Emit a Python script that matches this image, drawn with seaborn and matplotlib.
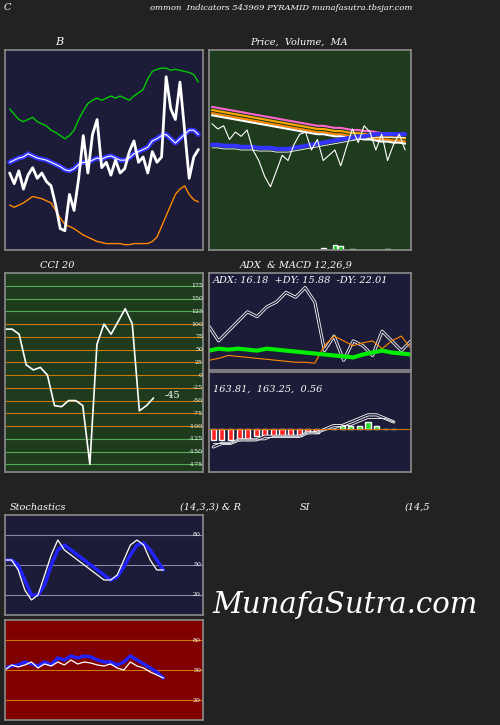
import matplotlib
matplotlib.use("Agg")
import matplotlib.pyplot as plt
import seaborn as sns
import numpy as np
import pandas as pd

sns.set_theme(style="dark")
plt.rcParams['font.family'] = ['DejaVu Serif']

# Bollinger panel
bb_price = [60,50,62,45,58,65,55,60,52,48,30,8,6,40,25,55,95,60,96,110,65,70,58,72,60,64,80,90,70,75,60,80,70,75,150,120,110,145,100,55,75,82]
bb_upper = [120,115,110,108,110,112,108,106,104,100,98,95,92,95,100,110,118,125,128,130,128,130,132,130,132,130,128,132,135,138,148,155,157,158,158,156,157,156,155,154,152,145]
bb_mid = [70,72,74,75,78,76,74,73,72,70,68,66,63,62,64,68,70,70,72,74,73,75,76,74,72,72,74,78,80,82,84,90,92,95,96,92,88,92,96,100,100,96]
bb_lower = [30,28,30,32,35,38,37,36,34,32,25,18,12,10,8,5,2,0,-2,-4,-5,-6,-6,-6,-6,-7,-7,-6,-6,-6,-6,-4,0,10,20,30,40,45,48,40,35,33]

# Price/MA panel
pr = [120,115,118,105,112,108,114,95,85,70,60,75,90,85,100,110,112,95,105,85,90,95,80,98,115,102,118,112,95,110,85,100,110,95]
ma_a = [130,129,128,127,126,125,124,123,122,121,120,119,118,117,116,115,114,113,112,112,111,110,110,109,108,108,107,107,106,105,105,104,104,103]
ma_b = [100,100,99,99,99,98,98,98,97,97,97,96,96,96,97,98,99,100,101,102,103,104,105,106,107,108,108,109,110,110,110,110,110,110]
vol = [0,0,0,0,0,0,0,0,0,0,0,0,0,0,0,0,0,0,0,2,0,5,4,0,1,0,0,0,0,0,1,0,0,0]

# CCI
cci = [90,90,80,20,10,15,0,-60,-62,-50,-50,-60,-175,60,100,80,105,130,100,-70,-60,-45]
cci_ticks = [175,150,125,100,75,50,25,0,-25,-50,-75,-100,-125,-150,-175]

# ADX / MACD
adx = [20,22,21,22,21,20,22,21,20,19,18,17,16,15,14,13,16,18,20,18,17,16]
pdi = [45,30,40,50,60,55,65,70,80,75,85,70,20,35,10,30,25,15,40,30,20,30]
ndi = [10,12,15,14,13,12,11,10,9,8,8,7,25,35,30,25,28,30,22,30,35,22]
macd = [-5,-4,-4,-3,-3,-3,-2,-2,-2,-2,-2,-1,-1,0,1,1,2,3,4,4,3,2]
macd_sig = [-4,-4,-4,-3,-3,-3,-3,-2,-2,-2,-2,-1,-1,0,0,1,1,2,3,3,3,2]
macd_hist = [-3,-3,-3,-3,-3,-2,-2,-2,-2,-2,-2,-1,-1,0,0,1,1,1,2,1,0,0]

# Stochastics / RSI
st_k = [55,55,45,25,15,20,40,60,75,65,60,55,50,45,40,35,35,40,55,70,75,70,55,45,45]
st_d = [55,55,50,35,20,20,30,50,65,70,65,60,55,50,45,40,35,38,48,60,70,72,65,55,45]
rsi = [50,55,53,55,58,52,56,54,58,55,60,56,58,57,55,54,56,52,50,58,54,52,48,45,42]
rsi_s = [52,54,55,58,56,54,58,55,62,60,64,62,64,63,60,58,58,55,58,64,60,56,52,48,42]

fig = plt.figure(figsize=(5, 7.25), dpi=100)
fig.patch.set_facecolor('#222222')
W, H = 500, 725
def ax_at(x0, y0, x1, y1, bg):
    a = fig.add_axes([x0/W, 1-y1/H, (x1-x0)/W, (y1-y0)/H])
    a.set_facecolor(bg)
    for s in a.spines.values():
        s.set_color('#888888')
    a.set_xticks([]); a.set_yticks([])
    a.grid(False)
    return a
def txt(x, y, s, size=7, **kw):
    fig.text(x/W, 1-y/H, s, color='white', fontsize=size, style='italic', **kw)

txt(4, 10, "C", 7)
txt(150, 10, "ommon  Indicators 543969 PYRAMID munafasutra.tbsjar.com", 6)
txt(55, 45, "B", 8)
txt(250, 45, "Price,  Volume,  MA", 7)

a = ax_at(5, 50, 203, 250, '#1c1c38')
x = np.arange(len(bb_price))
for d, c, lw in [(bb_upper, '#00cc00', 1), (bb_lower, '#ff8800', 1)]:
    sns.lineplot(x=x, y=d, ax=a, color=c, lw=lw)
sns.lineplot(x=x, y=bb_mid, ax=a, color='#3333ff', lw=3.5)
sns.lineplot(x=x, y=bb_mid, ax=a, color='white', lw=0.8)
sns.lineplot(x=x, y=bb_price, ax=a, color='white', lw=2)
a.set_xlim(-1, len(x)); a.set_ylim(-12, 175); a.set_xticks([]); a.set_yticks([])

a = ax_at(209, 50, 411, 250, '#1e3b1e')
x = np.arange(len(pr))
for off, c in [(6, '#ff66cc'), (3, '#ffaa00'), (0, '#ff8800'), (-2, 'white')]:
    sns.lineplot(x=x, y=np.array(ma_a)+off, ax=a, color=c, lw=1.5)
sns.lineplot(x=x, y=ma_b, ax=a, color='#3333ff', lw=3)
sns.lineplot(x=x, y=np.array(ma_b)-3, ax=a, color='white', lw=0.6)
sns.lineplot(x=x, y=pr, ax=a, color='white', lw=0.8)
a.bar(x, vol, bottom=0, color='#00cc00', width=0.8)
a.set_xlim(-0.5, len(x)); a.set_ylim(0, 190); a.set_xticks([]); a.set_yticks([])

txt(40, 268, "CCI 20", 7)
a = ax_at(5, 273, 203, 472, '#1e3b1e')
for t in cci_ticks:
    a.axhline(t, color='#cc7700' if abs(t) <= 100 else '#55aa55', lw=0.8)
    a.text(1.0, t, str(t), transform=a.get_yaxis_transform(), color='white', fontsize=4.5, va='center', ha='right')
x = np.arange(len(cci))
sns.lineplot(x=x, y=cci, ax=a, color='white', lw=1.2)
a.text(len(cci)+0.5, cci[-1], "-45", color='white', fontsize=7)
a.set_xlim(0, 28); a.set_ylim(-190, 200); a.set_xticks([]); a.set_yticks([])

txt(240, 268, "ADX  & MACD 12,26,9", 7)
a = ax_at(209, 273, 411, 370, '#1c1c38')
x = np.arange(len(adx))
sns.lineplot(x=x, y=pdi, ax=a, color='white', lw=2.2)
sns.lineplot(x=x, y=pdi, ax=a, color='#1c1c38', lw=1)
sns.lineplot(x=x, y=ndi, ax=a, color='#ff8800', lw=0.8)
sns.lineplot(x=x, y=adx, ax=a, color='#00ee00', lw=3)
a.text(0.02, 0.9, "ADX: 16.18  +DY: 15.88  -DY: 22.01", transform=a.transAxes, color='white', fontsize=7, style='italic')
a.set_xlim(0, len(x)-1); a.set_ylim(0, 100); a.set_xticks([]); a.set_yticks([])

a = ax_at(209, 372, 411, 472, '#1c1c38')
a.bar(x, macd_hist, color=['#ff2222' if v < 0 else '#22dd22' for v in macd_hist], width=0.6)
sns.lineplot(x=x, y=macd, ax=a, color='white', lw=2.2)
sns.lineplot(x=x, y=macd, ax=a, color='#1c1c38', lw=1)
sns.lineplot(x=x, y=macd_sig, ax=a, color='white', lw=0.6)
a.axhline(0, color='#cc7700', lw=0.8)
a.text(0.02, 0.8, "163.81,  163.25,  0.56", transform=a.transAxes, color='white', fontsize=7, style='italic')
a.set_xlim(-0.5, len(x)+1); a.set_ylim(-12, 16); a.set_xticks([]); a.set_yticks([])

txt(10, 510, "Stochastics", 7)
txt(180, 510, "(14,3,3) & R", 7)
txt(300, 510, "SI", 7)
txt(405, 510, "(14,5", 7)
for (y0, y1, bg, k, d, gc) in [(515, 615, '#1c1c38', st_k, st_d, '#8888aa'), (620, 720, '#800000', rsi, rsi_s, '#cc7700')]:
    a = ax_at(5, y0, 203, y1, bg)
    for t in (20, 50, 80):
        a.axhline(t, color=gc, lw=0.8)
        a.text(0.99, t, str(t), transform=a.get_yaxis_transform(), color='white', fontsize=4.5, va='center', ha='right')
    x = np.arange(len(k))
    sns.lineplot(x=x, y=d, ax=a, color='#2222ff', lw=2.5)
    sns.lineplot(x=x, y=k, ax=a, color='white', lw=0.9)
    a.set_xlim(0, 30); a.set_ylim(0, 100); a.set_xticks([]); a.set_yticks([])

fig.text(345/W, 1-605/H, "MunafaSutra.com", color='white', fontsize=21, style='italic', ha='center', va='center')
fig.savefig("out.png", dpi=100, facecolor=fig.get_facecolor())
